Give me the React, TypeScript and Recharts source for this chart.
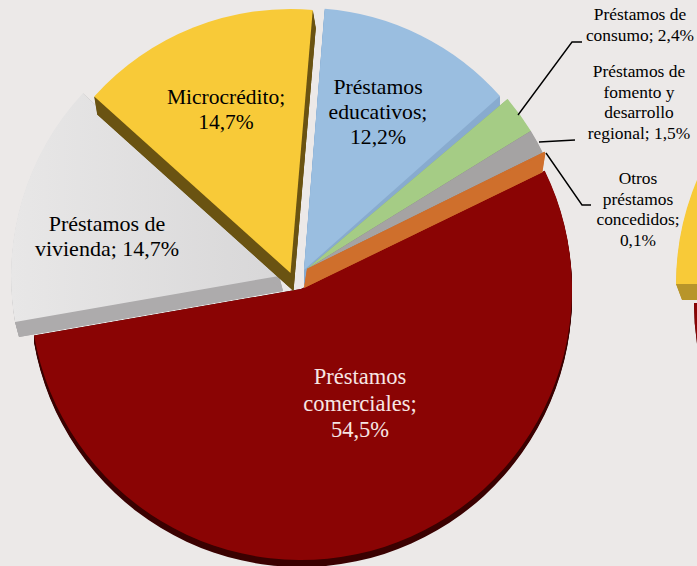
import { Pie, PieChart, Sector } from "recharts";

const categories = [
    "Préstamos comerciales",
    "Préstamos de vivienda",
    "Microcrédito",
    "Préstamos educativos",
    "Préstamos de consumo",
    "Préstamos de fomento y desarrollo regional",
    "Otros préstamos concedidos",
];
const shares = [54.5, 14.7, 14.7, 12.2, 2.4, 1.5, 0.1];
const labelLines = [
    ["Préstamos", "comerciales;", "54,5%"],
    ["Préstamos de", "vivienda; 14,7%"],
    ["Microcrédito;", "14,7%"],
    ["Préstamos", "educativos;", "12,2%"],
    ["Préstamos de", "consumo; 2,4%"],
    ["Préstamos de", "fomento y", "desarrollo", "regional; 1,5%"],
    ["Otros", "préstamos", "concedidos;", "0,1%"],
];

// the next pie on the original page, cut off by the right edge
const neighborNames = ["Comerciales", "Microcrédito", "Resto"];
const neighborShares = [60, 40, 260];

const faceColors = ["#8a0404", "url(#viviendaFace)", "#f8ca38", "#9abee0", "#a5cc85", "#a5a3a3", "#cf6f2c"];
const wallColors = ["#3a0101", "#adabac", "#6a5312", "#88abcf", "#8fb372", "#8a8888", "#cf6f2c"];
const neighborFaces = ["#8a0404", "#f8ca38", "none"];
const neighborWalls = ["#3a0101", "#b8952a", "none"];

// explode of each slice, the pie is a tilted 3D one so they do not line up
const apexX = [301, 279, 290.5, 304, 307, 307, 307];
const apexY = [289, 276, 273, 270, 269, 269, 269];
const radii = [271, 268, 264, 262, 263, 263, 265];
const rotations = [0, 0, 1, 1.3, 0, 0, 0];
const wallX = [0, 4, 3, 0, 0, 0, -3];
const wallY = [7, 15, 18, 15, 15, 15, 19];

const neighborApexX = [962, 944, 0];
const neighborApexY = [303, 284, 0];
const neighborWallX = [0, 6, 0];
const neighborWallY = [1, 16, 1];

const labelX = [360, 107, 226, 378, 640, 639, 638];
const labelY = [384, 231, 104, 94, 20, 77, 184];
const labelSize = [22.5, 22, 21.5, 21.7, 17.4, 17.4, 17.4];
const labelStep = [26.5, 25, 25, 25, 21, 20.5, 20.5];
const labelColors = ["#f7e6e4", "#000", "#000", "#000", "#000", "#000", "#000"];
const leaderLines: Record<number, string> = {
    4: "518,115 572,42 582,42",
    5: "539,142 575,140",
    6: "546,153 582,205 591,205",
};

const chartData = categories.map((name, i) => ({ name, value: shares[i] }));
const neighborData = neighborNames.map((name, i) => ({ name, value: neighborShares[i] }));

const outerPoint = (cx: number, cy: number, r: number, angle: number) => {
    const rad = (angle * Math.PI) / 180;
    return [cx + r * Math.cos(rad), cy - r * Math.sin(rad)];
};

// wall under a radial edge of the slice
const edgeWall = (cx: number, cy: number, r: number, angle: number, wx: number, wy: number) => {
    const [ox, oy] = outerPoint(cx, cy, r, angle);
    return `${cx},${cy} ${cx + wx},${cy + wy} ${ox + wx},${oy + wy} ${ox},${oy}`;
};

const slice3d = (cx: number, cy: number, r: number, start: number, end: number, wx: number, wy: number, face: string, wall: string) => {
    const steps = Array.from({ length: Math.round(wy) }, (_, k) => k + 1);
    const sector = { innerRadius: 0, outerRadius: r, startAngle: start, endAngle: end };
    return (
        <g>
            {steps.map((k) => (
                <Sector key={k} {...sector} cx={cx + (wx * k) / wy} cy={cy + (wy * k) / wy} fill={wall} stroke="none" />
            ))}
            <polygon points={edgeWall(cx, cy, r, start, wx, wy)} fill={wall} />
            <polygon points={edgeWall(cx, cy, r, end, wx, wy)} fill={wall} />
            <Sector {...sector} cx={cx} cy={cy} fill={face} stroke="none" />
        </g>
    );
};

const ExplodedSlice = (props: any) => {
    const i = props.index;
    return slice3d(
        apexX[i],
        apexY[i],
        radii[i],
        props.startAngle + rotations[i],
        props.endAngle + rotations[i],
        wallX[i],
        wallY[i],
        faceColors[i],
        wallColors[i],
    );
};

const NeighborSlice = (props: any) => {
    const i = props.index;
    if (i > 1) return <g />;
    return slice3d(
        neighborApexX[i],
        neighborApexY[i],
        268,
        props.startAngle,
        props.endAngle,
        neighborWallX[i],
        neighborWallY[i],
        neighborFaces[i],
        neighborWalls[i],
    );
};

const SliceLabel = (props: any) => {
    const i = props.index;
    return (
        <g>
            {leaderLines[i] && <polyline points={leaderLines[i]} fill="none" stroke="#000" strokeWidth={1.4} />}
            <text
                textAnchor="middle"
                fontFamily="'Liberation Serif', serif"
                fontSize={labelSize[i]}
                fill={labelColors[i]}
                xmlSpace="preserve"
            >
                {labelLines[i].map((line, k) => (
                    <tspan key={k} x={labelX[i]} y={labelY[i] + k * labelStep[i]}>
                        {line}
                    </tspan>
                ))}
            </text>
        </g>
    );
};

export default function App() {
    return (
        <div style={{ position: "fixed", left: 0, top: 0, width: 697, height: 566, overflow: "hidden", background: "#ece9e8" }}>
            <PieChart width={697} height={566} margin={{ top: 0, right: 0, bottom: 0, left: 0 }}>
                <defs>
                    <linearGradient id="viviendaFace" x1="0" y1="0" x2="1" y2="0">
                        <stop offset="0" stopColor="#e8e7e7" />
                        <stop offset="1" stopColor="#d8d7d8" />
                    </linearGradient>
                </defs>
                <Pie
                    data={neighborData}
                    dataKey="value"
                    nameKey="name"
                    cx={950}
                    cy={290}
                    outerRadius={268}
                    startAngle={240}
                    endAngle={-120}
                    shape={NeighborSlice}
                    isAnimationActive={false}
                />
                <Pie
                    data={chartData}
                    dataKey="value"
                    nameKey="name"
                    cx={300}
                    cy={285}
                    outerRadius={272}
                    startAngle={25.9}
                    endAngle={-334.1}
                    shape={ExplodedSlice}
                    label={SliceLabel}
                    labelLine={false}
                    isAnimationActive={false}
                />
            </PieChart>
        </div>
    );
}
